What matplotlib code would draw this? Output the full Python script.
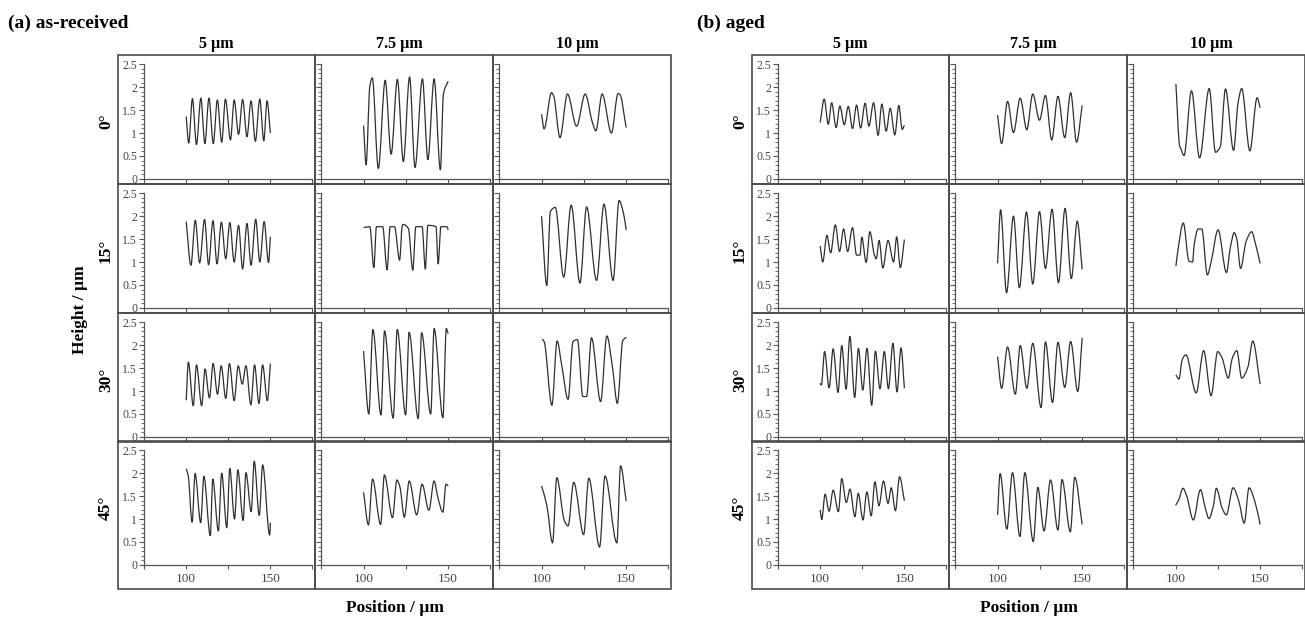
import matplotlib
matplotlib.use('Agg')
import matplotlib.pyplot as plt
from matplotlib.patches import Rectangle, PathPatch
from matplotlib.path import Path

plt.rcParams['font.family'] = ['Liberation Serif', 'DejaVu Serif']

# ---------------- data ----------------
GROUP_TITLES = ['(a) as-received', '(b) aged']
ROW_LABELS = ['0°', '15°', '30°', '45°']
COL_LABELS = ['5 µm', '7.5 µm', '10 µm']
Y_TICKS = [0, 0.5, 1, 1.5, 2, 2.5]
Y_TICK_LABELS = ['0', '0.5', '1', '1.5', '2', '2.5']
X_TICKS = [75, 100, 125, 150, 175]
X_TICK_LABELS = ['', '100', '', '150', '']
Y_LABEL = 'Height / µm'
X_LABEL = 'Position / µm'

# (a) as-received
a_r1_c1_x = [100, 101.5, 103.7, 106.1, 108.7, 111.1, 113.5, 116.1, 118.5, 121.1, 123.3, 126.3, 128.5, 131.1, 133.5, 136.1, 138.5, 141.1, 143.7, 146.1, 148.0, 150]
a_r1_c1_y = [1.36, 0.78, 1.75, 0.75, 1.76, 0.77, 1.76, 0.77, 1.72, 0.80, 1.74, 0.85, 1.72, 0.97, 1.73, 0.92, 1.70, 0.82, 1.74, 0.83, 1.70, 1.00]
a_r1_c2_x = [100, 101.5, 103.7, 105.2, 108.7, 112.8, 116.3, 120.0, 123.5, 127.2, 130.4, 134.8, 138.0, 141.7, 145.4, 147.2, 150]
a_r1_c2_y = [1.16, 0.31, 2.02, 2.20, 0.23, 2.15, 0.54, 2.17, 0.38, 2.22, 0.25, 2.18, 0.42, 2.18, 0.20, 1.85, 2.13]
a_r1_c3_x = [100, 101.5, 105.9, 107.2, 110.9, 115.3, 120.7, 125.8, 129.9, 132.1, 135.8, 141.3, 145.2, 146.3, 150]
a_r1_c3_y = [1.41, 1.09, 1.88, 1.80, 0.90, 1.85, 1.15, 1.85, 1.25, 1.05, 1.85, 1.00, 1.86, 1.84, 1.12]

a_r2_c1_x = [100, 102.8, 105.4, 108.0, 110.9, 113.3, 115.9, 118.3, 120.9, 123.5, 125.9, 128.5, 131.1, 133.5, 136.1, 138.5, 141.3, 143.7, 146.3, 148.9, 150]
a_r2_c1_y = [1.88, 0.93, 1.91, 0.98, 1.93, 0.94, 1.90, 0.96, 1.87, 1.07, 1.86, 1.00, 1.80, 0.85, 1.84, 0.93, 1.93, 1.00, 1.88, 0.99, 1.55]
a_r2_c2_x = [100, 103.7, 106.1, 107.6, 111.3, 113.9, 115.7, 118.3, 121.3, 122.8, 123.3, 126.5, 129.1, 130.9, 134.6, 136.5, 138.0, 142.8, 144.1, 145.7, 149.3, 150]
a_r2_c2_y = [1.75, 1.77, 0.88, 1.77, 1.77, 0.83, 1.77, 1.77, 1.04, 1.77, 1.82, 1.73, 0.82, 1.77, 1.77, 0.85, 1.80, 1.77, 0.96, 1.77, 1.77, 1.70]
a_r2_c3_x = [100, 103.1, 105.2, 108.1, 113.1, 117.5, 122.7, 126.6, 132.5, 136.9, 142.3, 145.8, 148.5, 150]
a_r2_c3_y = [2.00, 0.49, 2.10, 2.19, 0.67, 2.24, 0.54, 2.20, 0.60, 2.26, 0.60, 2.34, 2.05, 1.70]

a_r3_c1_x = [100, 101.3, 104.2, 106.1, 109.2, 111.2, 113.8, 116.0, 118.6, 120.8, 123.5, 125.7, 128.5, 130.9, 133.3, 135.5, 138.4, 140.6, 143.2, 145.4, 148.2, 150]
a_r3_c1_y = [0.80, 1.63, 0.68, 1.57, 0.68, 1.48, 0.85, 1.60, 0.93, 1.55, 0.84, 1.60, 0.79, 1.55, 1.15, 1.55, 0.70, 1.57, 0.73, 1.57, 0.79, 1.60]
a_r3_c2_x = [100, 103.1, 105.5, 110.3, 112.4, 117.5, 119.9, 124.9, 126.9, 132.3, 134.3, 139.7, 141.7, 146.9, 148.9, 150]
a_r3_c2_y = [1.87, 0.50, 2.34, 0.48, 2.31, 0.41, 2.34, 0.48, 2.28, 0.40, 2.27, 0.50, 2.36, 0.42, 2.36, 2.25]
a_r3_c3_x = [100.4, 101.5, 106.1, 109.2, 111.8, 115.7, 118.6, 121.2, 124.4, 126.6, 129.5, 134.9, 138.6, 141.9, 144.8, 148.0, 150]
a_r3_c3_y = [2.13, 2.08, 0.69, 2.09, 1.59, 0.82, 2.08, 2.12, 0.88, 0.88, 2.16, 0.77, 2.20, 1.52, 0.73, 2.10, 2.17]

a_r4_c1_x = [100, 101.2, 103.5, 105.3, 108.6, 110.5, 114.3, 115.8, 119.1, 121.1, 124.1, 125.9, 128.7, 130.7, 133.8, 135.5, 138.6, 140.4, 143.4, 145.4, 149.6, 150]
a_r4_c1_y = [2.09, 1.95, 0.93, 1.99, 0.92, 1.93, 0.64, 1.87, 0.74, 2.00, 0.81, 2.10, 1.00, 2.07, 0.97, 2.01, 1.16, 2.26, 1.08, 2.18, 0.65, 0.92]
a_r4_c2_x = [100, 102.9, 105.3, 110.1, 112.3, 117.1, 119.7, 121.5, 124.1, 127.0, 131.4, 134.6, 138.6, 141.7, 143.9, 146.9, 148.7, 150]
a_r4_c2_y = [1.58, 0.87, 1.87, 0.88, 1.96, 1.03, 1.85, 1.70, 1.04, 1.83, 1.09, 1.76, 1.19, 1.83, 1.47, 1.15, 1.76, 1.72]
a_r4_c3_x = [100, 103.1, 106.5, 109.0, 113.5, 115.7, 119.0, 124.9, 127.9, 134.3, 137.5, 144.5, 146.7, 150]
a_r4_c3_y = [1.72, 1.30, 0.48, 1.90, 0.96, 0.85, 1.80, 0.66, 1.89, 0.39, 1.94, 0.48, 2.16, 1.39]

# (b) aged
b_r1_c1_x = [100, 102.4, 104.8, 106.8, 109.5, 111.7, 114.3, 116.7, 119.2, 121.6, 124.0, 126.7, 128.9, 131.7, 134.4, 136.6, 139.2, 141.6, 144.3, 146.7, 148.7, 150]
b_r1_c1_y = [1.23, 1.74, 1.19, 1.66, 1.12, 1.59, 1.18, 1.58, 1.10, 1.61, 1.11, 1.65, 1.15, 1.66, 0.95, 1.63, 1.04, 1.54, 0.96, 1.60, 1.08, 1.17]
b_r1_c2_x = [100, 102.4, 105.9, 109.4, 113.4, 117.3, 120.8, 124.8, 128.3, 132.0, 135.7, 139.7, 143.2, 146.7, 150]
b_r1_c2_y = [1.39, 0.77, 1.69, 1.01, 1.76, 1.07, 1.85, 1.28, 1.82, 0.85, 1.80, 0.90, 1.88, 0.80, 1.60]
b_r1_c3_x = [100.2, 102.4, 103.2, 105.0, 109.4, 114.2, 119.9, 123.6, 126.4, 129.5, 134.3, 136.9, 139.1, 143.9, 148.2, 150]
b_r1_c3_y = [2.07, 0.72, 0.65, 0.51, 1.92, 0.46, 1.97, 0.58, 0.70, 1.96, 0.62, 1.65, 1.97, 0.61, 1.77, 1.55]

b_r2_c1_x = [100, 101.5, 104.0, 106.2, 109.0, 111.5, 113.9, 116.3, 119.2, 121.6, 123.6, 124.7, 127.3, 129.5, 132.2, 133.3, 135.0, 137.2, 140.3, 143.6, 145.4, 147.6, 150]
b_r2_c1_y = [1.35, 1.00, 1.58, 1.20, 1.81, 1.23, 1.72, 1.23, 1.75, 1.15, 1.15, 1.54, 0.99, 1.66, 1.15, 1.07, 1.47, 0.87, 1.47, 1.00, 1.55, 0.88, 1.49]
b_r2_c2_x = [100, 101.8, 105.3, 109.4, 112.9, 117.1, 120.8, 124.8, 128.3, 132.2, 136.0, 139.9, 143.6, 147.1, 150]
b_r2_c2_y = [0.97, 2.14, 0.33, 2.00, 0.44, 2.09, 0.52, 2.10, 0.86, 2.15, 0.55, 2.17, 0.64, 1.89, 0.84]
b_r2_c3_x = [100.2, 101.3, 104.6, 107.9, 110.0, 111.1, 113.3, 115.5, 118.8, 121.0, 125.1, 130.1, 132.3, 134.7, 136.2, 138.4, 141.7, 145.0, 147.2, 150]
b_r2_c3_y = [0.91, 1.23, 1.85, 1.02, 1.00, 1.40, 1.72, 1.72, 0.72, 1.00, 1.70, 0.77, 1.30, 1.64, 1.50, 0.86, 1.45, 1.66, 1.40, 0.97]

b_r3_c1_x = [100, 100.7, 102.6, 105.3, 107.7, 110.6, 112.8, 115.4, 117.6, 120.5, 122.7, 125.3, 127.8, 130.6, 132.8, 135.5, 138.1, 140.5, 143.2, 145.6, 148.0, 150]
b_r3_c1_y = [1.17, 1.13, 1.86, 1.07, 1.92, 0.97, 1.99, 1.04, 2.19, 0.86, 1.93, 1.02, 1.93, 0.69, 1.87, 1.05, 1.86, 1.05, 2.04, 0.98, 1.94, 1.06]
b_r3_c2_x = [100, 102.4, 105.9, 110.5, 113.4, 117.3, 120.8, 125.7, 128.3, 132.5, 135.7, 139.7, 143.2, 147.4, 150]
b_r3_c2_y = [1.75, 1.06, 1.96, 0.93, 1.99, 1.06, 2.04, 0.64, 2.07, 0.75, 2.06, 1.08, 2.08, 0.99, 2.16]
b_r3_c3_x = [100.2, 102.0, 103.9, 106.1, 112.2, 116.6, 121.0, 124.9, 127.5, 131.2, 133.4, 136.2, 139.1, 142.8, 145.6, 150]
b_r3_c3_y = [1.35, 1.26, 1.68, 1.79, 0.96, 1.88, 0.90, 1.86, 1.72, 1.28, 1.70, 1.88, 1.28, 1.53, 2.09, 1.15]

b_r4_c1_x = [100, 100.9, 102.9, 105.3, 107.7, 110.8, 112.8, 115.5, 117.7, 120.6, 122.6, 125.4, 127.7, 130.3, 132.5, 134.9, 137.6, 140.3, 142.2, 144.7, 147.1, 150]
b_r4_c1_y = [1.20, 0.99, 1.54, 1.17, 1.63, 1.16, 1.88, 1.36, 1.65, 1.05, 1.56, 0.98, 1.59, 1.07, 1.81, 1.29, 1.83, 1.34, 1.68, 1.18, 1.92, 1.40]
b_r4_c2_x = [100, 101.5, 105.5, 108.8, 113.2, 116.1, 121.1, 123.8, 127.5, 131.3, 135.7, 138.1, 143.0, 145.6, 150]
b_r4_c2_y = [1.09, 1.99, 0.78, 2.01, 0.62, 2.01, 0.51, 1.69, 0.74, 1.85, 0.76, 1.86, 0.72, 1.91, 0.88]
b_r4_c3_x = [100, 101.8, 104.4, 106.6, 110.5, 114.7, 117.5, 119.7, 122.4, 124.1, 127.4, 130.0, 134.0, 137.3, 140.6, 143.4, 147.1, 150]
b_r4_c3_y = [1.30, 1.41, 1.67, 1.50, 0.98, 1.64, 1.25, 1.01, 1.30, 1.67, 1.25, 1.09, 1.68, 1.40, 0.91, 1.68, 1.35, 0.88]

PROFILES = [
    [[(a_r1_c1_x, a_r1_c1_y), (a_r1_c2_x, a_r1_c2_y), (a_r1_c3_x, a_r1_c3_y)],
     [(a_r2_c1_x, a_r2_c1_y), (a_r2_c2_x, a_r2_c2_y), (a_r2_c3_x, a_r2_c3_y)],
     [(a_r3_c1_x, a_r3_c1_y), (a_r3_c2_x, a_r3_c2_y), (a_r3_c3_x, a_r3_c3_y)],
     [(a_r4_c1_x, a_r4_c1_y), (a_r4_c2_x, a_r4_c2_y), (a_r4_c3_x, a_r4_c3_y)]],
    [[(b_r1_c1_x, b_r1_c1_y), (b_r1_c2_x, b_r1_c2_y), (b_r1_c3_x, b_r1_c3_y)],
     [(b_r2_c1_x, b_r2_c1_y), (b_r2_c2_x, b_r2_c2_y), (b_r2_c3_x, b_r2_c3_y)],
     [(b_r3_c1_x, b_r3_c1_y), (b_r3_c2_x, b_r3_c2_y), (b_r3_c3_x, b_r3_c3_y)],
     [(b_r4_c1_x, b_r4_c1_y), (b_r4_c2_x, b_r4_c2_y), (b_r4_c3_x, b_r4_c3_y)]],
]

# ---------------- layout (pixels) ----------------
W, H = 1305, 621
fig = plt.figure(figsize=(W / 100, H / 100), dpi=100)

GROUP_LEFT = [118, 752]
COL_W = [197, 178, 178]
ROW_TOP = [55, 184, 313, 441]
ROW_H = [129, 129, 129, 148]
XLIM_FIRST = (59.5, 176.5)
XLIM_OTHER = (71.3, 176.5)
YTOP = 2.70
PX_PER_UNIT = 45.9
Y_MINOR = [i / 10 for i in range(26) if i % 5 != 0]

LINE_C = '#2f2f2f'
FRAME_C = '#4a4a4a'
TICK_C = '#555555'


def px_text(x, y, s, **kw):
    fig.text(x / W, 1 - y / H, s, **kw)


def smooth_profile(xs, ys):
    """Path through the read points drawn with monotone cubic (Bezier) segments
    so peaks look rounded like the measured profiles; it passes exactly through
    every read point and adds no extrema."""
    n = len(xs)
    d = [(ys[i + 1] - ys[i]) / (xs[i + 1] - xs[i]) for i in range(n - 1)]
    m = [0.0] * n
    m[0], m[-1] = d[0], d[-1]
    for i in range(1, n - 1):
        if d[i - 1] * d[i] <= 0:
            m[i] = 0.0
        else:
            h0, h1 = xs[i] - xs[i - 1], xs[i + 1] - xs[i]
            w1, w2 = 2 * h1 + h0, h1 + 2 * h0
            m[i] = (w1 + w2) / (w1 / d[i - 1] + w2 / d[i])
    verts = [(xs[0], ys[0])]
    codes = [Path.MOVETO]
    for i in range(n - 1):
        h = xs[i + 1] - xs[i]
        verts += [(xs[i] + h / 3, ys[i] + m[i] * h / 3),
                  (xs[i + 1] - h / 3, ys[i + 1] - m[i + 1] * h / 3),
                  (xs[i + 1], ys[i + 1])]
        codes += [Path.CURVE4] * 3
    return Path(verts, codes)


for g in range(2):
    left0 = GROUP_LEFT[g]
    for r in range(4):
        for c in range(3):
            left = left0 + sum(COL_W[:c])
            w = COL_W[c]
            top = ROW_TOP[r]
            h = ROW_H[r]
            ax = fig.add_axes([left / W, 1 - (top + h) / H, w / W, h / H])
            xs, ys = PROFILES[g][r][c]
            ax.add_patch(PathPatch(smooth_profile(xs, ys), fill=False, edgecolor=LINE_C,
                                   lw=0.9, joinstyle='round', transform=ax.transData))
            xl = XLIM_FIRST if c == 0 else XLIM_OTHER
            ax.set_xlim(*xl)
            ax.set_ylim(YTOP - h / PX_PER_UNIT, YTOP)
            for s in ['top', 'right']:
                ax.spines[s].set_visible(False)
            ax.spines['left'].set_position(('data', 75))
            ax.spines['left'].set_bounds(0, 2.5)
            ax.spines['bottom'].set_position(('data', 0))
            ax.spines['bottom'].set_bounds(75, 175)
            for s in ['left', 'bottom']:
                ax.spines[s].set_color(TICK_C)
                ax.spines[s].set_linewidth(0.9)
            ax.add_patch(Rectangle((0, 0), 1, 1, transform=ax.transAxes, fill=False,
                                   edgecolor=FRAME_C, lw=1.2, clip_on=False, zorder=5))
            ax.set_yticks(Y_TICKS)
            ax.set_yticks(Y_MINOR, minor=True)
            ax.tick_params(axis='y', which='major', direction='out', length=3.5, width=0.8,
                           color=TICK_C, labelsize=8.5, pad=1.5, labelcolor='#444444')
            ax.tick_params(axis='y', which='minor', direction='out', length=2, width=0.6, color=TICK_C)
            if c == 0:
                ax.set_yticklabels(Y_TICK_LABELS)
            else:
                ax.set_yticklabels([])
            ax.set_xticks(X_TICKS)
            ax.tick_params(axis='x', which='major', direction='out', length=3, width=0.8,
                           color=TICK_C, labelsize=9.5, pad=3, labelcolor='#444444')
            if r == 3:
                ax.set_xticklabels(X_TICK_LABELS)
            else:
                ax.set_xticklabels([])
            ax.patch.set_alpha(0)

    # group title
    px_text(8 if g == 0 else 697, 23, GROUP_TITLES[g], fontsize=14, fontweight='bold',
            ha='left', va='center')
    # column headers
    for c in range(3):
        cx = left0 + sum(COL_W[:c]) + COL_W[c] / 2
        px_text(cx - (0 if c == 0 else 5), 44, COL_LABELS[c], fontsize=11.5,
                fontweight='bold', ha='center', va='center')
    # row labels
    for r in range(4):
        cy = ROW_TOP[r] + (YTOP - 1.25) * PX_PER_UNIT
        px_text(left0 - 12, cy, ROW_LABELS[r], fontsize=12.5, fontweight='bold',
                rotation=90, ha='center', va='center')
    # axis labels
    if g == 0:
        px_text(80, 310, Y_LABEL, fontsize=12.5, fontweight='bold', rotation=90,
                ha='center', va='center')
    px_text(left0 + 277, 608, X_LABEL, fontsize=12.5, fontweight='bold',
            ha='center', va='center')

fig.savefig('out.png', dpi=100)
